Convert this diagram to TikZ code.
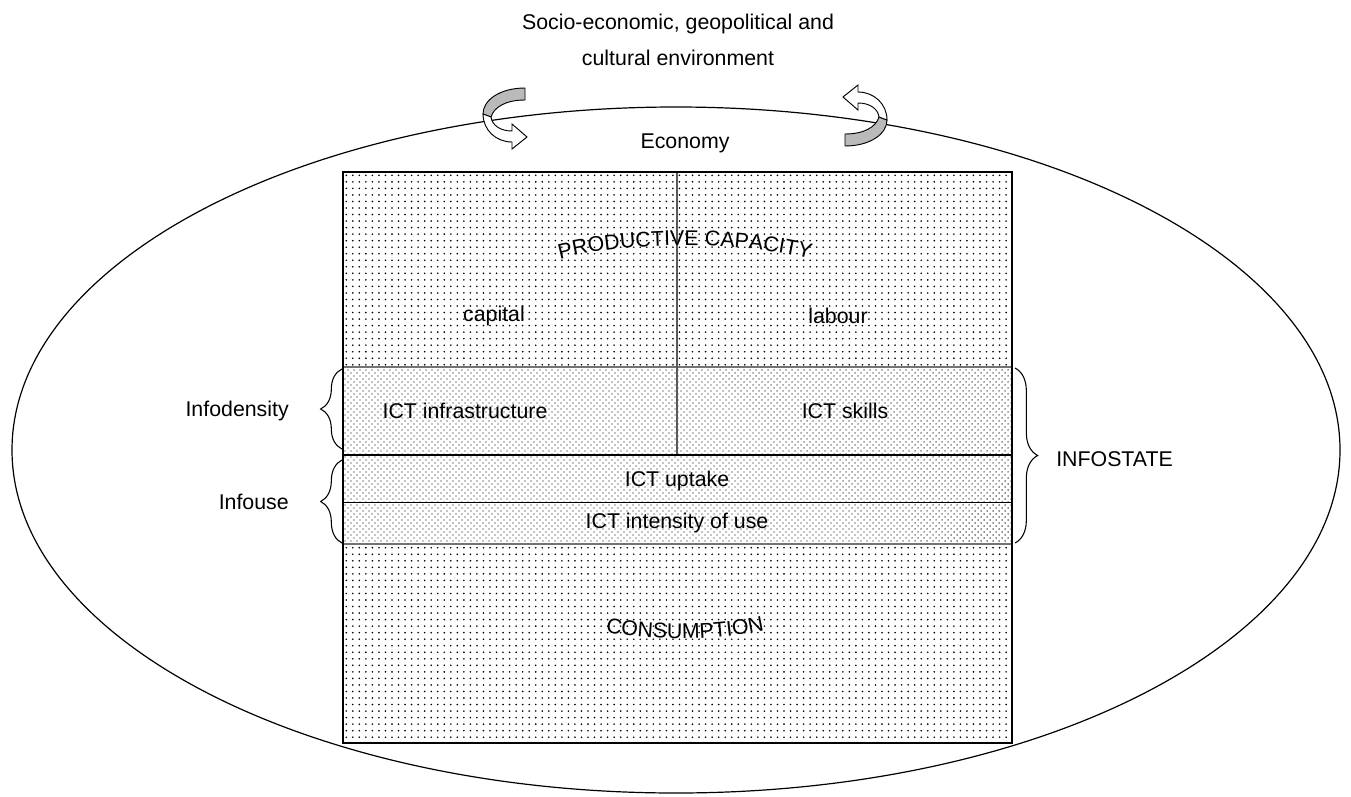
\documentclass[tikz,border=0pt]{standalone}
\usepackage{fontspec}
\setmainfont{Liberation Sans}
\usepackage{xcolor}
\usetikzlibrary{patterns,decorations.pathreplacing,decorations.text}

\pgfdeclarepatternformonly{sparsedots}{\pgfpoint{-1pt}{-1pt}}{\pgfpoint{3.9pt}{3.9pt}}{\pgfpoint{4.9pt}{4.9pt}}{\pgfpathcircle{\pgfpointorigin}{0.68pt}\pgfusepath{fill}}
\pgfdeclarepatternformonly{densedots}{\pgfpoint{-1pt}{-1pt}}{\pgfpoint{3.5pt}{3.5pt}}{\pgfpoint{4.5pt}{4.5pt}}{\pgfpathcircle{\pgfpointorigin}{0.55pt}\pgfpathcircle{\pgfpoint{2.25pt}{2.25pt}}{0.55pt}\pgfusepath{fill}}

\begin{document}
\begin{tikzpicture}[x=0.75pt,y=0.75pt,yscale=-1,xscale=1,every node/.style={font=\fontsize{16}{19}\selectfont}]
\useasboundingbox (0,0) rectangle (1351,796);

%Shape: Ellipse [economy]
\draw [line width=0.9]  (676,450) ellipse [x radius=664, y radius=343];

%Shape: Rectangle [productive capacity]
\fill [pattern=sparsedots, pattern color=black] (343,172) rectangle (1012,367);
%Shape: Rectangle [infodensity]
\fill [pattern=densedots, pattern color=black] (343,367) rectangle (1012,455);
%Shape: Rectangle [infouse]
\fill [pattern=densedots, pattern color=black] (343,455) rectangle (1012,544);
%Shape: Rectangle [consumption]
\fill [pattern=sparsedots, pattern color=black] (343,544) rectangle (1012,743);

%Straight Lines
\draw [color=black!55, line width=1.2]  (343,367) -- (1012,367) ;
\draw [color=black!55, line width=1.2]  (343,544) -- (1012,544) ;
\draw [color=black!65, line width=1.3]  (677,172) -- (677,455) ;
\draw [line width=0.6]  (343,502) -- (1012,502) ;
\draw [line width=2.2]  (343,455) -- (1012,455) ;
\draw [line width=1.1]  (343,172) rectangle (1012,743) ;

%Curve Arrow [left]
\draw [fill=black!27, line width=0.7]  (525,88) .. controls (500,88) and (483,100) .. (483,114) -- (491,117) .. controls (494,107) and (506,100) .. (525,100) -- cycle ;
\draw [fill=white, line width=0.7]  (483,114) .. controls (483,130) and (496,142) .. (512,142) -- (512,149) -- (527,137) -- (512,124) -- (512,131) .. controls (500,131) and (492,125) .. (491,117) -- cycle ;
%Curve Arrow [right]
\begin{scope}[rotate around={180:(685,117)}]
\draw [fill=black!27, line width=0.7]  (525,88) .. controls (500,88) and (483,100) .. (483,114) -- (491,117) .. controls (494,107) and (506,100) .. (525,100) -- cycle ;
\draw [fill=white, line width=0.7]  (483,114) .. controls (483,130) and (496,142) .. (512,142) -- (512,149) -- (527,137) -- (512,124) -- (512,131) .. controls (500,131) and (492,125) .. (491,117) -- cycle ;
\end{scope}

%Braces
\coordinate (densitytop) at (342,369);
\coordinate (densitybot) at (342,449);
\coordinate (usetop) at (342,460);
\coordinate (usebot) at (342,543);
\coordinate (statetop) at (1015,368);
\coordinate (statebot) at (1015,543);
\draw [decorate, decoration={brace, amplitude=16pt}, line width=0.8]  (densitybot) -- (densitytop) ;
\draw [decorate, decoration={brace, amplitude=16pt}, line width=0.8]  (usebot) -- (usetop) ;
\draw [decorate, decoration={brace, amplitude=17pt}, line width=0.8]  (statetop) -- (statebot) ;

%Curved Text
\path [decorate, decoration={text along path, text align=center, text={|\fontsize{16}{19}\selectfont|PRODUCTIVE CAPACITY}}]  (550,262) .. controls (620,240) and (750,240) .. (820,262) ;
\path [decorate, decoration={text along path, text align=center, text={|\fontsize{16}{19}\selectfont|CONSUMPTION}}]  (595,630) .. controls (650,642) and (720,642) .. (775,628) ;

% Text Node
\draw (678,24) node (environment) [inner sep=0.75pt]   {Socio-economic, geopolitical and};
% Text Node
\draw (678,58) node (environment2) [inner sep=0.75pt]   {cultural environment};
% Text Node
\draw (685,143) node (economy) [inner sep=0.75pt]   {Economy};
% Text Node
\draw (494,316) node (capital) [inner sep=0.75pt]   {capital};
% Text Node
\draw (838,316) node (labour) [inner sep=0.75pt]   {labour};
% Text Node
\draw (465,411) node (infrastructure) [inner sep=0.75pt]   {ICT infrastructure};
% Text Node
\draw (845,411) node (skills) [inner sep=0.75pt]   {ICT skills};
% Text Node
\draw (677,481) node (uptake) [inner sep=0.75pt]   {ICT uptake};
% Text Node
\draw (677,523) node (intensity) [inner sep=0.75pt]   {ICT intensity of use};
% Text Node
\draw (290,411) node (infodensity) [anchor=east][inner sep=0.75pt]   {Infodensity};
% Text Node
\draw (290,502) node (infouse) [anchor=east][inner sep=0.75pt]   {Infouse};
% Text Node
\draw (1055,459) node (infostate) [anchor=west][inner sep=0.75pt]   {INFOSTATE};
\end{tikzpicture}
\end{document}
